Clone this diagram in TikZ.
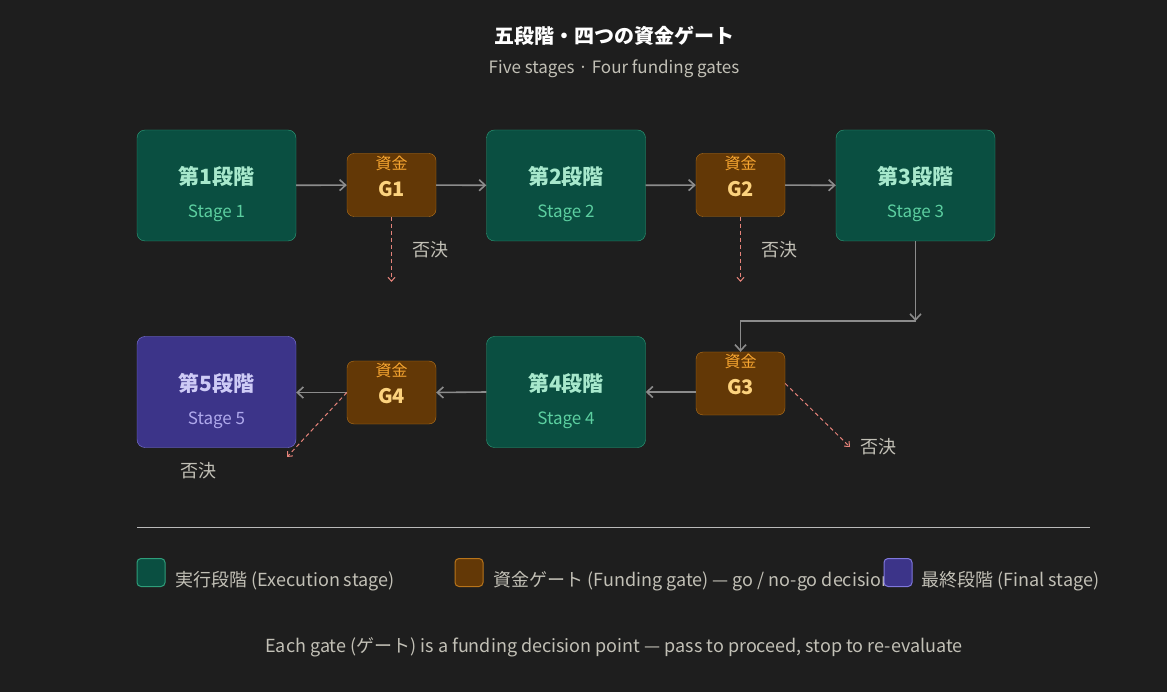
\documentclass[tikz,border=0pt]{standalone}
\usepackage{fontspec}
\setmainfont{Noto Sans CJK JP}
\usetikzlibrary{arrows.meta}
\definecolor{bg}{HTML}{1E1E1E}
\definecolor{stfill}{HTML}{0A4F41}
\definecolor{stdraw}{HTML}{2E9E7A}
\definecolor{sttext}{HTML}{A7E8CC}
\definecolor{stsub}{HTML}{5CCFA0}
\definecolor{gtfill}{HTML}{633806}
\definecolor{gtdraw}{HTML}{B8741A}
\definecolor{gttext}{HTML}{FCD27D}
\definecolor{gtsub}{HTML}{F6A530}
\definecolor{fnfill}{HTML}{3C3489}
\definecolor{fndraw}{HTML}{7F77DD}
\definecolor{fntext}{HTML}{CECBF6}
\definecolor{fnsub}{HTML}{AFA9EC}
\definecolor{arrgray}{HTML}{8C8C8C}
\definecolor{rej}{HTML}{E5837A}
\definecolor{txt}{HTML}{C2C0B6}
\tikzset{
  stage/.style={draw=stdraw, fill=stfill, rounded corners=8pt, minimum width=159pt, minimum height=111pt, inner sep=0pt},
  final/.style={stage, draw=fndraw, fill=fnfill},
  gate/.style={draw=gtdraw, fill=gtfill, rounded corners=7pt, minimum width=89pt, minimum height=63pt, inner sep=0pt},
  flow/.style={draw=arrgray, line width=1.6pt, -{Straight Barb[length=6pt,width=11pt]}},
  reject/.style={draw=rej, line width=1pt, dash pattern=on 4pt off 3pt, -{Straight Barb[length=4pt,width=7pt]}},
  lbl/.style={text=txt, font=\fontsize{18}{20}\selectfont},
  key/.style={rounded corners=4pt, minimum size=28pt, inner sep=0pt, line width=1pt}
}
\newcommand{\stagelbl}[3]{\shortstack{\textcolor{#2}{\fontsize{21}{24}\selectfont #1}\\[10pt]\textcolor{#3}{\fontsize{17}{19}\selectfont #1}}}
\begin{document}
\begin{tikzpicture}[x=1pt, y=-1pt]
  \fill[bg] (0,0) rectangle (1167,692);
  \useasboundingbox (0,0) rectangle (1167,692);

  % Title
  \node[text=white, font=\bfseries\fontsize{20}{24}\selectfont] (title) at (614,36) {五段階・四つの資金ゲート};
  \node[text=txt, font=\fontsize{17}{20}\selectfont] (subtitle) at (614,69) {Five stages · Four funding gates};

  % Stages
  \node[stage] (s1) at (216.5,185.5) {};
  \node[stage] (s2) at (566,185.5) {};
  \node[stage] (s3) at (915.5,185.5) {};
  \node[stage] (s4) at (566,392) {};
  \node[final] (s5) at (216.5,392) {};
  \foreach \n/\x/\y/\c/\d in {1/216.5/185.5/sttext/stsub, 2/566/185.5/sttext/stsub, 3/915.5/185.5/sttext/stsub, 4/566/392/sttext/stsub, 5/216.5/392/fntext/fnsub} {
    \node[text=\c, font=\bfseries\fontsize{21}{24}\selectfont] at (\x,\y-9) {第\n 段階};
    \node[text=\d, font=\fontsize{17}{19}\selectfont] at (\x,\y+28) {Stage \n};
  }

  % Gates
  \node[gate] (g1) at (391.5,185) {};
  \node[gate] (g2) at (740.5,185) {};
  \node[gate] (g3) at (740.5,383.5) {};
  \node[gate] (g4) at (391.5,392.5) {};
  \foreach \n in {1,2,3,4} {
    \node[text=gttext, font=\bfseries\fontsize{20}{22}\selectfont] at ([yshift=-4pt]g\n.center) {G\n};
    \node[text=gtsub, font=\fontsize{16}{18}\selectfont] at ([yshift=22pt]g\n.center) {資金};
  }

  % Main flow
  \draw[flow] (s1) -- (g1);
  \draw[flow] (g1) -- (s2);
  \draw[flow] (s2) -- (g2);
  \draw[flow] (g2) -- (s3);
  \coordinate (bend) at (915.5,321);
  \draw[flow] (s3.south) -- (bend);
  \draw[flow] (bend) -- (740.5,321) -- (g3.north);
  \draw[flow] (g3.west |- s4) -- (s4.east);
  \draw[flow] (s4.west) -- (g4.east);
  \draw[flow] (g4.west) -- (s5.east |- g4.west);

  % Rejections
  \coordinate (r1) at (391.5,282);
  \coordinate (r2) at (740.5,282);
  \coordinate (r3) at (850,447);
  \coordinate (r4) at (287,457);
  \draw[reject] (g1.south) -- (r1);
  \draw[reject] (g2.south) -- (r2);
  \draw[reject] (g3.east) -- (r3);
  \draw[reject] (g4.west) -- (r4);
  \node[lbl] (n1) at (430,250) {否決};
  \node[lbl] (n2) at (779,250) {否決};
  \node[lbl] (n3) at (878,447) {否決};
  \node[lbl] (n4) at (198,471) {否決};

  % Legend
  \draw[draw=arrgray!60, line width=1pt] (137,527) -- (1090,527);
  \node[key, draw=stdraw, fill=stfill] (k1) at (151,572.5) {};
  \node[lbl, anchor=west] (k1t) at (172,581) {実行段階 (Execution stage)};
  \node[key, draw=gtdraw, fill=gtfill] (k2) at (469,572.5) {};
  \node[lbl, anchor=west] (k2t) at (490,581) {資金ゲート (Funding gate) — go / no-go decision};
  \node[key, draw=fndraw, fill=fnfill] (k3) at (898,572.5) {};
  \node[lbl, anchor=west] (k3t) at (918,581) {最終段階 (Final stage)};

  % Footer
  \node[lbl] (foot) at (614,647) {Each gate (ゲート) is a funding decision point — pass to proceed, stop to re-evaluate};
\end{tikzpicture}
\end{document}
